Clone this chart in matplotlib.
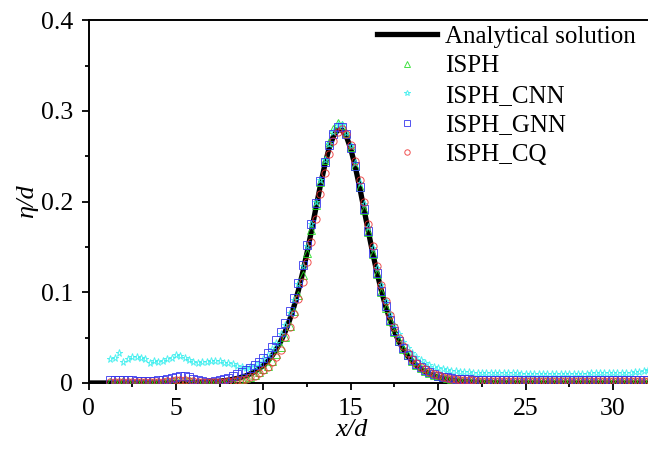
import matplotlib
matplotlib.use('Agg')
from matplotlib import pyplot as plt

plt.rcParams['font.family'] = ['Liberation Serif', 'DejaVu Serif']

# analytical solitary wave profile
x_exact = [0.0, 2.0, 4.0, 5.0, 5.5, 6.0, 6.5, 7.0, 7.5, 8.0, 8.5, 9.0, 9.5,
           10.0, 10.25, 10.5, 10.75, 11.0, 11.25, 11.5, 11.75, 12.0, 12.25,
           12.5, 12.75, 13.0, 13.25, 13.5, 13.75, 14.0, 14.25, 14.5, 14.75,
           15.0, 15.25, 15.5, 15.75, 16.0, 16.25, 16.5, 16.75, 17.0, 17.25,
           17.5, 17.75, 18.0, 18.25, 18.5, 18.75, 19.0, 19.5, 20.0, 20.5,
           21.0, 21.5, 22.0, 22.5, 23.0, 24.0, 26.0, 28.0, 30.0, 32.0]
y_exact = [0.0, 0.0, 0.0, 0.0002, 0.0003, 0.0005, 0.0008, 0.0013, 0.0020,
           0.0032, 0.0050, 0.0079, 0.0124,
           0.0193, 0.0241, 0.0300, 0.0372, 0.0460, 0.0566, 0.0693, 0.0843,
           0.1018, 0.1217, 0.1438, 0.1676, 0.1923, 0.2166, 0.2391, 0.2581,
           0.2718, 0.2791, 0.2791, 0.2718, 0.2581, 0.2391, 0.2166, 0.1923,
           0.1676, 0.1438, 0.1217, 0.1018, 0.0843, 0.0693, 0.0566, 0.0460,
           0.0372, 0.0300, 0.0241, 0.0193, 0.0155, 0.0099, 0.0063, 0.0040,
           0.0025, 0.0016, 0.0010, 0.0006, 0.0004, 0.0001, 0.0, 0.0, 0.0, 0.0]

# particle sample positions shared by all ISPH runs
x_sph = [1.25, 1.5, 1.75, 2.0, 2.25, 2.5, 2.75, 3.0,
         3.25, 3.5, 3.75, 4.0, 4.25, 4.5, 4.75, 5.0,
         5.25, 5.5, 5.75, 6.0, 6.25, 6.5, 6.75, 7.0,
         7.25, 7.5, 7.75, 8.0, 8.25, 8.5, 8.75, 9.0,
         9.25, 9.5, 9.75, 10.0, 10.25, 10.5, 10.75, 11.0,
         11.25, 11.5, 11.75, 12.0, 12.25, 12.5, 12.75, 13.0,
         13.25, 13.5, 13.75, 14.0, 14.25, 14.5, 14.75, 15.0,
         15.25, 15.5, 15.75, 16.0, 16.25, 16.5, 16.75, 17.0,
         17.25, 17.5, 17.75, 18.0, 18.25, 18.5, 18.75, 19.0,
         19.25, 19.5, 19.75, 20.0, 20.25, 20.5, 20.75, 21.0,
         21.25, 21.5, 21.75, 22.0, 22.25, 22.5, 22.75, 23.0,
         23.25, 23.5, 23.75, 24.0, 24.25, 24.5, 24.75, 25.0,
         25.25, 25.5, 25.75, 26.0, 26.25, 26.5, 26.75, 27.0,
         27.25, 27.5, 27.75, 28.0, 28.25, 28.5, 28.75, 29.0,
         29.25, 29.5, 29.75, 30.0, 30.25, 30.5, 30.75, 31.0,
         31.25, 31.5, 31.75, 32.0]

y_isph = [0.0010, 0.0012, 0.0015, 0.0018, 0.0015, 0.0012, 0.0014, 0.0016,
          0.0015, 0.0013, 0.0012, 0.0014, 0.0018, 0.0022, 0.0028, 0.0034,
          0.0038, 0.0035, 0.0028, 0.0020, 0.0012, 0.0008, 0.0007, 0.0008,
          0.0010, 0.0012, 0.0015, 0.0019, 0.0024, 0.0031, 0.0040, 0.0052,
          0.0068, 0.0089, 0.0116, 0.0150, 0.0192, 0.0246, 0.0315, 0.0400,
          0.0505, 0.0632, 0.0790, 0.0975, 0.1190, 0.1430, 0.1690, 0.1960,
          0.2220, 0.2460, 0.2660, 0.2800, 0.2870, 0.2850, 0.2760, 0.2600,
          0.2395, 0.2160, 0.1910, 0.1660, 0.1420, 0.1200, 0.1000, 0.0830,
          0.0685, 0.0562, 0.0460, 0.0375, 0.0305, 0.0248, 0.0202, 0.0164,
          0.0134, 0.0110, 0.0090, 0.0075, 0.0063, 0.0054, 0.0047, 0.0041,
          0.0037, 0.0034, 0.0031, 0.0029, 0.0028, 0.0027, 0.0026, 0.0025,
          0.0024, 0.0024, 0.0023, 0.0023, 0.0022, 0.0022, 0.0022, 0.0021,
          0.0021, 0.0021, 0.0020, 0.0020, 0.0020, 0.0020, 0.0019, 0.0019,
          0.0019, 0.0019, 0.0019, 0.0019, 0.0018, 0.0018, 0.0018, 0.0018,
          0.0018, 0.0018, 0.0018, 0.0018, 0.0018, 0.0018, 0.0019, 0.0019,
          0.0019, 0.0020, 0.0020, 0.0021]

y_cnn = [0.0265, 0.0280, 0.0334, 0.0228, 0.0270, 0.0290, 0.0285, 0.0275,
         0.0262, 0.0215, 0.0248, 0.0235, 0.0245, 0.0262, 0.0280, 0.0310,
         0.0300, 0.0272, 0.0254, 0.0232, 0.0224, 0.0230, 0.0236, 0.0240,
         0.0246, 0.0238, 0.0225, 0.0217, 0.0205, 0.0190, 0.0178, 0.0168,
         0.0172, 0.0190, 0.0220, 0.0262, 0.0312, 0.0372, 0.0445, 0.0535,
         0.0640, 0.0770, 0.0920, 0.1095, 0.1295, 0.1515, 0.1750, 0.1995,
         0.2235, 0.2455, 0.2640, 0.2770, 0.2845, 0.2840, 0.2760, 0.2615,
         0.2430, 0.2210, 0.1970, 0.1725, 0.1490, 0.1270, 0.1075, 0.0905,
         0.0760, 0.0640, 0.0540, 0.0455, 0.0388, 0.0332, 0.0288, 0.0252,
         0.0222, 0.0198, 0.0178, 0.0162, 0.0150, 0.0141, 0.0134, 0.0128,
         0.0124, 0.0120, 0.0117, 0.0115, 0.0113, 0.0111, 0.0110, 0.0109,
         0.0108, 0.0107, 0.0106, 0.0106, 0.0105, 0.0105, 0.0104, 0.0104,
         0.0104, 0.0103, 0.0103, 0.0103, 0.0103, 0.0103, 0.0103, 0.0103,
         0.0103, 0.0103, 0.0103, 0.0104, 0.0104, 0.0104, 0.0105, 0.0105,
         0.0106, 0.0106, 0.0107, 0.0108, 0.0109, 0.0110, 0.0112, 0.0114,
         0.0118, 0.0125, 0.0135, 0.0148]

y_gnn = [0.0032, 0.0035, 0.0036, 0.0034, 0.0031, 0.0028, 0.0026, 0.0024,
         0.0023, 0.0024, 0.0026, 0.0028, 0.0031, 0.0040, 0.0054, 0.0068,
         0.0078, 0.0075, 0.0062, 0.0044, 0.0028, 0.0018, 0.0014, 0.0016,
         0.0022, 0.0031, 0.0044, 0.0060, 0.0078, 0.0098, 0.0120, 0.0143,
         0.0170, 0.0200, 0.0235, 0.0280, 0.0332, 0.0395, 0.0470, 0.0560,
         0.0665, 0.0790, 0.0935, 0.1105, 0.1300, 0.1520, 0.1750, 0.1990,
         0.2225, 0.2440, 0.2620, 0.2750, 0.2820, 0.2820, 0.2740, 0.2590,
         0.2395, 0.2165, 0.1920, 0.1672, 0.1435, 0.1215, 0.1018, 0.0845,
         0.0697, 0.0572, 0.0468, 0.0382, 0.0312, 0.0255, 0.0208, 0.0171,
         0.0141, 0.0116, 0.0097, 0.0082, 0.0070, 0.0061, 0.0054, 0.0049,
         0.0045, 0.0042, 0.0040, 0.0038, 0.0037, 0.0036, 0.0035, 0.0035,
         0.0034, 0.0034, 0.0034, 0.0033, 0.0033, 0.0033, 0.0033, 0.0033,
         0.0032, 0.0033, 0.0033, 0.0032, 0.0033, 0.0033, 0.0032, 0.0033,
         0.0033, 0.0032, 0.0033, 0.0033, 0.0032, 0.0033, 0.0033, 0.0032,
         0.0033, 0.0033, 0.0032, 0.0033, 0.0033, 0.0032, 0.0033, 0.0033,
         0.0032, 0.0033, 0.0033, 0.0034]

y_cq = [0.0008, 0.0010, 0.0012, 0.0012, 0.0010, 0.0009, 0.0010, 0.0011,
        0.0011, 0.0010, 0.0010, 0.0012, 0.0016, 0.0021, 0.0027, 0.0032,
        0.0035, 0.0033, 0.0027, 0.0019, 0.0012, 0.0008, 0.0006, 0.0007,
        0.0009, 0.0011, 0.0014, 0.0018, 0.0023, 0.0030, 0.0038, 0.0049,
        0.0063, 0.0082, 0.0106, 0.0138, 0.0178, 0.0228, 0.0290, 0.0368,
        0.0505, 0.0620, 0.0760, 0.0925, 0.1115, 0.1330, 0.1560, 0.1810,
        0.2080, 0.2320, 0.2520, 0.2670, 0.2770, 0.2800, 0.2750, 0.2625,
        0.2450, 0.2235, 0.1995, 0.1750, 0.1510, 0.1285, 0.1080, 0.0900,
        0.0745, 0.0612, 0.0500, 0.0407, 0.0330, 0.0267, 0.0216, 0.0176,
        0.0150, 0.0122, 0.0100, 0.0083, 0.0069, 0.0058, 0.0049, 0.0042,
        0.0037, 0.0033, 0.0030, 0.0028, 0.0026, 0.0025, 0.0024, 0.0023,
        0.0022, 0.0022, 0.0022, 0.0021, 0.0021, 0.0021, 0.0021, 0.0021,
        0.0020, 0.0020, 0.0021, 0.0020, 0.0020, 0.0021, 0.0020, 0.0020,
        0.0020, 0.0021, 0.0020, 0.0020, 0.0020, 0.0021, 0.0020, 0.0020,
        0.0020, 0.0020, 0.0021, 0.0020, 0.0020, 0.0020, 0.0021, 0.0020,
        0.0020, 0.0021, 0.0021, 0.0022]

fig = plt.figure(figsize=(6.48, 4.49), dpi=100)
ax = fig.add_axes([0.1366, 0.147, 0.8634, 0.808])

ax.plot(x_exact, y_exact, color='black', lw=3.8, label='Analytical solution', zorder=2)
mk = dict(ls='none', ms=5.2, mfc='none', mew=0.7, alpha=0.85, zorder=3)
ax.plot(x_sph, y_isph, marker='^', mec='#22dd22', label='ISPH', **mk)
ax.plot(x_sph, y_cnn, marker='*', mec='#33eeee', label='ISPH_CNN', **mk)
ax.plot(x_sph, y_gnn, marker='s', mec='#3333ee', label='ISPH_GNN', **mk)
ax.plot(x_sph, y_cq, marker='o', mec='#ee3333', label='ISPH_CQ', **mk)

ax.set_xlim(0, 32)
ax.set_ylim(0, 0.4)
ax.set_xticks([0, 5, 10, 15, 20, 25, 30])
ax.set_xticks([2.5, 7.5, 12.5, 17.5, 22.5, 27.5], minor=True)
ax.set_yticks([0, 0.1, 0.2, 0.3, 0.4])
ax.set_yticklabels(['0', '0.1', '0.2', '0.3', '0.4'])
ax.set_yticks([0.05, 0.15, 0.25, 0.35], minor=True)
ax.tick_params(which='major', direction='out', length=5, width=1.3, labelsize=18.5, pad=6)
ax.tick_params(which='minor', direction='out', length=3, width=1.3)

for s in ['left', 'bottom', 'top']:
    ax.spines[s].set_linewidth(1.4)
ax.spines['right'].set_visible(False)

ax.set_xlabel('x/d', fontsize=19, fontstyle='italic')
ax.xaxis.set_label_coords(0.47, -0.098)
ax.set_ylabel('η/d', fontsize=19, fontstyle='italic', labelpad=2)

ax.legend(loc='upper right', bbox_to_anchor=(1.0, 1.02), frameon=False, fontsize=18,
          numpoints=1, handlelength=2.4, handletextpad=0.3, labelspacing=0.28,
          borderaxespad=0.1, markerscale=0.75)

fig.savefig('out.png', dpi=100)
